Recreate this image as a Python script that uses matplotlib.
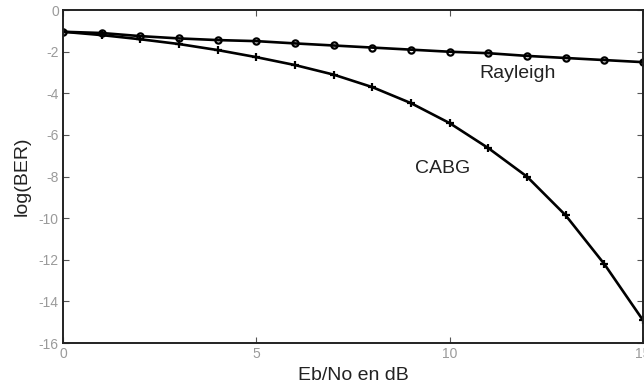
import matplotlib.pyplot as plt

plt.rcParams['font.family'] = ['Liberation Sans', 'DejaVu Sans']
plt.rcParams['axes.unicode_minus'] = False

# Eb/No in dB
snr_db = [0, 1, 2, 3, 4, 5, 6, 7, 8, 9, 10, 11, 12, 13, 14, 15]

# log(BER)
rayleigh = [-1.04, -1.1, -1.25, -1.36, -1.44, -1.49, -1.6, -1.7, -1.8, -1.9,
            -2.0, -2.07, -2.2, -2.3, -2.4, -2.5]
cabg = [-1.04, -1.2, -1.4, -1.63, -1.92, -2.26, -2.64, -3.1, -3.7, -4.47,
        -5.43, -6.63, -8.0, -9.86, -12.2, -14.9]

fig = plt.figure(figsize=(6.44, 3.89), dpi=100, facecolor='white')
ax = fig.add_axes([0.0978, 0.118, 0.9006, 0.856])

ax.plot(snr_db, rayleigh, color='black', linewidth=1.9, marker='o',
        markersize=4.5, markerfacecolor='none', markeredgewidth=1.6)
ax.plot(snr_db, cabg, color='black', linewidth=1.9, marker='+',
        markersize=6, markeredgewidth=1.6)

# curve names written on the plot
ax.text(10.78, -3.03, 'Rayleigh', fontsize=14, color='#222222', va='center', ha='left')
ax.text(9.1, -7.6, 'CABG', fontsize=14, color='#222222', va='center', ha='left')

ax.set_xlim(0, 15)
ax.set_ylim(-16, 0)
ax.set_xticks([0, 5, 10, 15])
ax.set_yticks(range(-16, 1, 2))
ax.tick_params(direction='in', length=4, width=0.8, top=True, right=True,
               labelsize=10, labelcolor='#9a9a9a', color='#555555', pad=3)
for sp in ax.spines.values():
    sp.set_linewidth(1.4)
    sp.set_color('#222222')

ax.set_xlabel('Eb/No en dB', fontsize=14, color='#222222', labelpad=4)
ax.set_ylabel('log(BER)', fontsize=14, color='#222222', labelpad=6)

fig.savefig('out.png', dpi=100)
